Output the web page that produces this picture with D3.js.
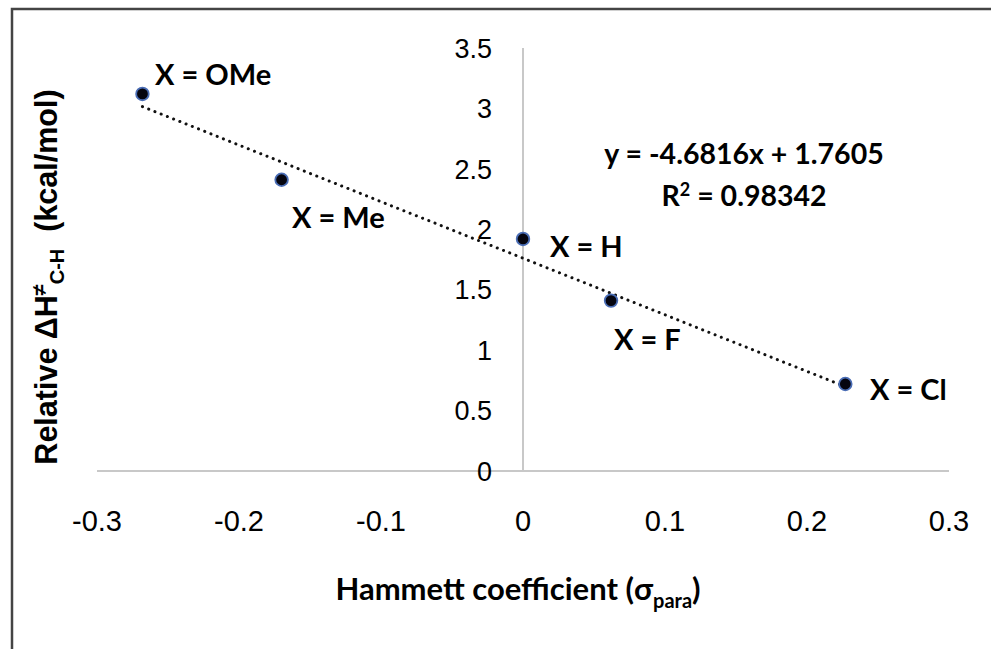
<!DOCTYPE html>
<html>
<head>
<meta charset="utf-8">
<script src="https://cdn.jsdelivr.net/npm/d3@7"></script>
<style>
  body { margin: 0; background: #fff; }
  svg { display: block; }
</style>
</head>
<body>
<svg width="991" height="649"></svg>
<script>
// Datos
const substituents = ["OMe", "Me", "H", "F", "Cl"];
const sigmaPara = [-0.268, -0.17, 0, 0.062, 0.227];
const deltaH = [3.12, 2.41, 1.92, 1.41, 0.72];
const xTicks = [-0.3, -0.2, -0.1, 0, 0.1, 0.2, 0.3];
const yTicks = [0, 0.5, 1, 1.5, 2, 2.5, 3, 3.5];
const slope = -4.6816, intercept = 1.7605, r2 = "0.98342";

const svg = d3.select("svg");
const calibri = "Lato, 'Open Sans', sans-serif";
const arial = "'Liberation Sans', Arial, sans-serif";

const x = d3.scaleLinear().domain([-0.3, 0.3]).range([97, 949]);
const y = d3.scaleLinear().domain([0, 3.5]).range([471, 48]);

// marco
svg.append("path")
    .attr("d", "M12,649 L12,9 L991,9")
    .attr("fill", "none")
    .attr("stroke", "#444")
    .attr("stroke-width", 2.5);

// ejes (cruzan en 0)
svg.append("line")
    .attr("x1", x(-0.3)).attr("x2", x(0.3))
    .attr("y1", y(0)).attr("y2", y(0))
    .attr("stroke", "#c8c8c8").attr("stroke-width", 2);
svg.append("line")
    .attr("x1", x(0)).attr("x2", x(0))
    .attr("y1", y(0)).attr("y2", y(3.5))
    .attr("stroke", "#c8c8c8").attr("stroke-width", 2);

// etiquetas del eje x (abajo)
svg.append("g").selectAll("text")
    .data(xTicks)
    .enter()
    .append("text")
    .attr("x", d => x(d))
    .attr("y", 531)
    .attr("text-anchor", "middle")
    .style("font-family", arial)
    .style("font-size", "29px")
    .text(d => String(d));

// etiquetas del eje y
svg.append("g").selectAll("text")
    .data(yTicks)
    .enter()
    .append("text")
    .attr("x", 492)
    .attr("y", d => y(d))
    .attr("dy", "0.36em")
    .attr("text-anchor", "end")
    .style("font-family", arial)
    .style("font-size", "27px")
    .text(d => String(d));

// línea de tendencia
const xr = d3.extent(sigmaPara);
svg.append("line")
    .attr("x1", x(xr[0])).attr("y1", y(slope * xr[0] + intercept))
    .attr("x2", x(xr[1])).attr("y2", y(slope * xr[1] + intercept))
    .attr("stroke", "#111")
    .attr("stroke-width", 3)
    .attr("stroke-linecap", "round")
    .attr("stroke-dasharray", "0.1 6.6");

// puntos
const pts = substituents.map((s, i) => ({ s, x: sigmaPara[i], y: deltaH[i] }));
svg.append("g").selectAll("circle")
    .data(pts)
    .enter()
    .append("circle")
    .attr("cx", d => x(d.x))
    .attr("cy", d => y(d.y))
    .attr("r", 6.3)
    .style("fill", "#05050f")
    .style("stroke", "#4a6db5")
    .style("stroke-width", 1.8);

// etiquetas de los puntos
const labelPos = {
    OMe: [155, 85],
    Me: [292, 228],
    H: [550, 257],
    F: [614, 350],
    Cl: [870, 400]
};
svg.append("g").selectAll("text")
    .data(pts)
    .enter()
    .append("text")
    .attr("x", d => labelPos[d.s][0])
    .attr("y", d => labelPos[d.s][1])
    .style("font-family", calibri)
    .style("font-weight", "bold")
    .style("font-size", "29px")
    .text(d => "X = " + d.s);

// ecuación
const eq = svg.append("g")
    .style("font-family", calibri)
    .style("font-weight", "bold")
    .style("font-size", "28.5px")
    .attr("text-anchor", "middle");
eq.append("text")
    .attr("x", 744).attr("y", 164)
    .text("y = " + slope + "x + " + intercept);
const r2t = eq.append("text").attr("x", 744).attr("y", 206);
r2t.append("tspan").text("R");
r2t.append("tspan").attr("dy", -10).style("font-size", "18px").text("2");
r2t.append("tspan").attr("dy", 10).text(" = " + r2);

// título eje y
const yt = svg.append("text")
    .attr("transform", "translate(57,277) rotate(-90)")
    .attr("text-anchor", "middle")
    .style("font-family", arial)
    .style("font-weight", "bold")
    .style("font-size", "30.5px");
yt.append("tspan").text("Relative \u0394H");
yt.append("tspan").attr("dy", -11).style("font-size", "20px").text("\u2260");
yt.append("tspan").attr("dy", 18).style("font-size", "20px").text("C-H");
yt.append("tspan").attr("dy", -7).text("\u00a0 (kcal/mol)");

// título eje x
const xt = svg.append("text")
    .attr("x", 518).attr("y", 600)
    .attr("text-anchor", "middle")
    .style("font-family", calibri)
    .style("font-weight", "bold")
    .style("font-size", "31px");
xt.append("tspan").text("Hammett coefficient (\u03c3");
xt.append("tspan").attr("dy", 8).style("font-size", "20px").text("para");
xt.append("tspan").attr("dy", -8).text(")");
</script>
</body>
</html>
